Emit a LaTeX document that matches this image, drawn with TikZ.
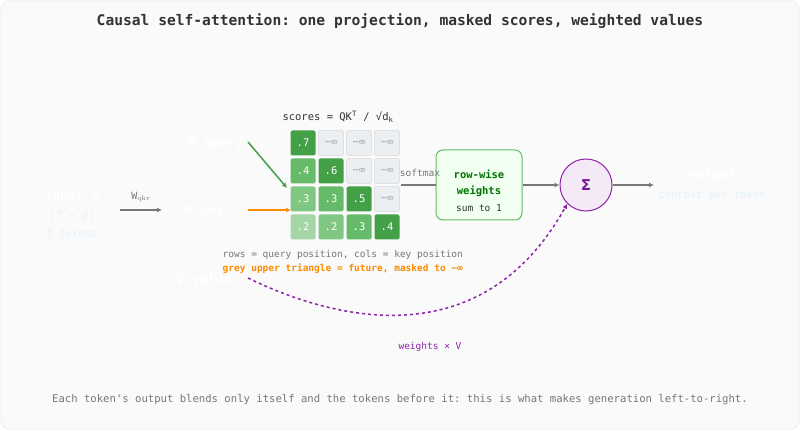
\documentclass[tikz,border=0pt]{standalone}
\usepackage{fontspec}
\setmonofont{DejaVu Sans Mono}
\setsansfont{DejaVu Sans}
\usetikzlibrary{arrows.meta,positioning}
\definecolor{bgc}{HTML}{FAFAFA}
\definecolor{txtc}{HTML}{333333}
\definecolor{greyc}{HTML}{777777}
\definecolor{gA}{HTML}{43A047}
\definecolor{gB}{HTML}{66BB6A}
\definecolor{gC}{HTML}{81C784}
\definecolor{gD}{HTML}{A5D6A7}
\definecolor{maskc}{HTML}{ECEFF1}
\definecolor{purc}{HTML}{8E24AA}
\definecolor{orc}{HTML}{FB8C00}
\definecolor{paleblue}{HTML}{E3F2FD}
\tikzset{every picture/.style={line width=0.75pt}}
\tikzset{
  lbl/.style={font=\ttfamily\bfseries\fontsize{13}{15}\selectfont, text=white},
  sub/.style={font=\ttfamily\fontsize{10.5}{12}\selectfont, text=paleblue},
  note/.style={font=\ttfamily\fontsize{10}{12}\selectfont, text=greyc},
  cell/.style={minimum size=25pt, rounded corners=2pt, inner sep=0pt, font=\ttfamily\fontsize{10.5}{12}\selectfont, text=white},
  masked/.style={cell, fill=maskc, draw=black!12, text=black!35},
  conn/.style={draw=greyc, line width=1.5pt, -{Latex[length=5pt,width=5pt]}},
}
\begin{document}
\begin{tikzpicture}[x=1pt,y=1pt,yscale=-1]

% background
\draw[fill=bgc, draw=black!8, rounded corners=8pt] (1,1) rectangle (799,429);
\useasboundingbox (0,0) rectangle (800,430);

\node[font=\ttfamily\bfseries\fontsize{14.6}{17}\selectfont, text=txtc] (title) at (400,21) {Causal self-attention: one projection, masked scores, weighted values};

% input
\node[lbl] (inp) at (72,196) {input x};
\node[sub] (inpdim) at (72,216) {(T × d)};
\node[sub] (inptok) at (72,234) {T tokens};
\coordinate (wa) at (120,210);
\coordinate (wb) at (162,210);
\draw[conn] (wa) -- (wb);
\node[note] (wlbl) at (141,197) {W$_{\mathrm{qkv}}$};

% projections
\node[lbl] (q) at (216,143) {Q query};
\node[lbl] (k) at (204,211) {K key};
\node[lbl] (v) at (204,279) {V value};
\coordinate (qa) at (248,142);
\coordinate (qb) at (287,188);
\coordinate (ka) at (248,210);
\coordinate (kb) at (291,210);
\draw[draw=gA, line width=1.5pt, -{Latex[length=5pt,width=5pt]}] (qa) -- (qb);
\draw[draw=orc, line width=1.5pt, -{Latex[length=5pt,width=5pt]}] (ka) -- (kb);

% scores matrix
\node[font=\ttfamily\fontsize{10.5}{12}\selectfont, text=txtc] (scl) at (338,117) {scores = QK\textsuperscript{T} / √d\textsubscript{k}};
\node[cell, fill=gA] (m11) at (303,143) {.7};
\node[masked] (m12) at (331,143) {−∞};
\node[masked] (m13) at (359,143) {−∞};
\node[masked] (m14) at (387,143) {−∞};
\node[cell, fill=gB] (m21) at (303,171) {.4};
\node[cell, fill=gA] (m22) at (331,171) {.6};
\node[masked] (m23) at (359,171) {−∞};
\node[masked] (m24) at (387,171) {−∞};
\node[cell, fill=gC] (m31) at (303,199) {.3};
\node[cell, fill=gB] (m32) at (331,199) {.3};
\node[cell, fill=gA] (m33) at (359,199) {.5};
\node[masked] (m34) at (387,199) {−∞};
\node[cell, fill=gD] (m41) at (303,227) {.2};
\node[cell, fill=gC] (m42) at (331,227) {.2};
\node[cell, fill=gB] (m43) at (359,227) {.3};
\node[cell, fill=gA] (m44) at (387,227) {.4};

\node[note, anchor=west, font=\ttfamily\fontsize{9.5}{11}\selectfont] (n1) at (219,255) {rows = query position, cols = key position};
\node[note, anchor=west, text=orc, font=\ttfamily\bfseries\fontsize{9.5}{11}\selectfont] (n2) at (219,269) {grey upper triangle = future, masked to −∞};

% softmax weights
\node[draw=gB, fill=green!6, rounded corners=7pt, minimum width=86pt, minimum height=70pt, line width=1pt] (wts) at (479,185) {};
\node[font=\ttfamily\bfseries\fontsize{10.5}{12}\selectfont, text=green!45!black] (w1) at (479,174) {row-wise};
\node[font=\ttfamily\bfseries\fontsize{10.5}{12}\selectfont, text=green!45!black] (w2) at (479,191) {weights};
\node[font=\ttfamily\fontsize{9.5}{11}\selectfont, text=txtc] (w3) at (479,208) {sum to 1};
\coordinate (sa) at (401,185);
\draw[draw=greyc, line width=1.5pt] (sa) -- (wts.west);
\node[note, font=\ttfamily\fontsize{9.5}{11}\selectfont] (smx) at (420,173) {softmax};

% sum
\node[circle, draw=purc, fill=purc!10, minimum size=52pt, line width=1pt, font=\sffamily\bfseries\fontsize{15}{17}\selectfont, text=purc!85!black] (sig) at (586,185) {Σ};
\draw[conn] (wts.east) -- (sig.west);
\coordinate (oa) at (654,185);
\draw[conn] (sig.east) -- (oa);
\node[lbl] (out) at (712,175) {output};
\node[sub] (outs) at (712,196) {context per token};

% values path
\coordinate (va) at (248,278);
\draw[draw=purc, line width=1.5pt, dashed, -{Latex[length=5pt,width=5pt]}] (va) .. controls (330,318) and (480,360) .. (sig.-135);
\node[font=\ttfamily\fontsize{9.5}{11}\selectfont, text=purc] (wv) at (430,347) {weights × V};

\node[note, font=\ttfamily\fontsize{10.6}{12}\selectfont] (foot) at (400,400) {Each token's output blends only itself and the tokens before it: this is what makes generation left-to-right.};

\end{tikzpicture}
\end{document}
